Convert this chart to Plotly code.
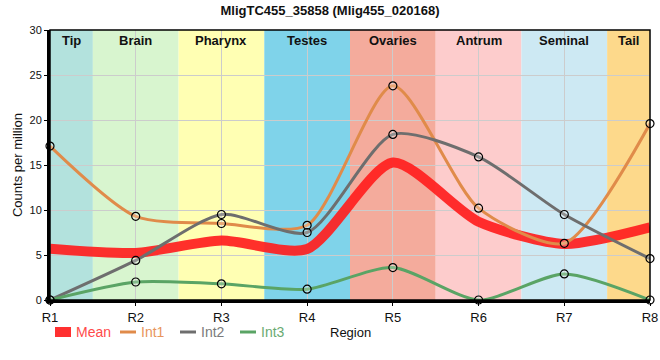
import plotly.graph_objects as go

regions = ["R1", "R2", "R3", "R4", "R5", "R6", "R7", "R8"]
int1 = [17.1, 9.3, 8.5, 8.3, 23.8, 10.2, 6.3, 19.6]
int2 = [0.0, 4.4, 9.5, 7.5, 18.4, 15.9, 9.5, 4.6]
int3 = [0.0, 2.0, 1.8, 1.2, 3.6, 0.0, 2.9, 0.0]
mean = [round((a + b + c) / 3, 2) for a, b, c in zip(int1, int2, int3)]

tissues = ["Tip", "Brain", "Pharynx", "Testes", "Ovaries", "Antrum", "Seminal", "Tail"]
tissue_colors = ["#b3e2dd", "#d8f5cf", "#ffffb3", "#7fd3ea", "#f4ab9c", "#fdcccc", "#cde9f3", "#fdd98b"]

series_names = ["Mean", "Int1", "Int2", "Int3"]
series_colors = ["rgba(255,30,30,0.92)", "#e08b4a", "#6e6e6e", "#5aa465"]
legend_text_colors = ["#ff4a4a", "#e8955c", "#7a7a7a", "#6aaa72"]

x = list(range(len(regions)))
SMOOTH = 0.7

fig = go.Figure()
fig.add_trace(go.Scatter(
    x=x, y=mean, mode="lines", showlegend=False,
    line=dict(color=series_colors[0], width=10, shape="spline", smoothing=SMOOTH),
))
for vals, col in zip([int1, int2, int3], series_colors[1:]):
    fig.add_trace(go.Scatter(
        x=x, y=vals, mode="lines", showlegend=False,
        line=dict(color=col, width=3, shape="spline", smoothing=SMOOTH),
    ))
for vals in [int1, int2, int3]:
    fig.add_trace(go.Scatter(
        x=x, y=vals, mode="markers", showlegend=False,
        marker=dict(symbol="circle", size=8, color="rgba(255,255,255,0.25)",
                    line=dict(color="black", width=1.2)),
    ))

shapes = []
for i, col in enumerate(tissue_colors):
    x0 = max(i - 0.5, 0)
    x1 = min(i + 0.5, len(regions) - 1)
    shapes.append(dict(type="rect", xref="x", yref="y", x0=x0, x1=x1, y0=0, y1=30,
                       fillcolor=col, line=dict(width=0), layer="below"))
shapes.append(dict(type="rect", xref="paper", yref="paper", x0=0, x1=1, y0=0, y1=1,
                   line=dict(color="black", width=1.5), layer="above"))

annotations = []
for i, t in enumerate(tissues):
    x0 = max(i - 0.5, 0)
    x1 = min(i + 0.5, len(regions) - 1)
    annotations.append(dict(x=(x0 + x1) / 2, y=1, xref="x", yref="paper", yanchor="top",
                            yshift=-1, text=f"<b>{t}</b>", showarrow=False,
                            font=dict(size=13, color="#111")))

# manual legend (plot area: 600 px wide starting at x=50; 270 px high)
PW, PH = 600.0, 270.0
leg_y = -32.0 / PH
leg_starts = [55, 120, 180, 240]
for i, (nm, col, tcol) in enumerate(zip(series_names, series_colors, legend_text_colors)):
    sx = leg_starts[i]
    w = 16
    lw = 10 if i == 0 else 3
    shapes.append(dict(type="line", xref="paper", yref="paper",
                       x0=(sx - 50) / PW, x1=(sx + w - 50) / PW, y0=leg_y, y1=leg_y,
                       line=dict(color=col, width=lw), layer="above"))
    annotations.append(dict(x=(sx + w + 3 - 50) / PW, y=leg_y, xref="paper", yref="paper",
                            xanchor="left", yanchor="middle", text=nm, showarrow=False,
                            font=dict(size=14, color=tcol)))
annotations.append(dict(x=0.5, y=leg_y, xref="paper", yref="paper", xanchor="center",
                        yanchor="middle", text="Region", showarrow=False,
                        font=dict(size=13, color="#111")))

fig.update_layout(
    width=660, height=360,
    margin=dict(l=50, r=10, t=30, b=60, autoexpand=False),
    paper_bgcolor="white", plot_bgcolor="white",
    font=dict(family="Liberation Sans, Arial, sans-serif", size=12, color="#111"),
    title=dict(text="<b>MligTC455_35858 (Mlig455_020168)</b>", x=0.5, xanchor="center",
               y=0.985, yanchor="top", font=dict(size=13, color="#111")),
    showlegend=False,
    shapes=shapes, annotations=annotations,
)
fig.update_xaxes(
    range=[0, len(regions) - 1], tickvals=x, ticktext=regions, automargin=False,
    showgrid=True, gridcolor="#cccccc", gridwidth=1, zeroline=False,
    showline=True, linecolor="black", linewidth=3,
    ticks="outside", ticklen=3, tickcolor="black",
    tickfont=dict(size=13, color="#111"),
)
fig.update_yaxes(
    range=[0, 30], tickvals=[0, 5, 10, 15, 20, 25, 30], automargin=False,
    showgrid=True, gridcolor="#cccccc", gridwidth=1, zeroline=False,
    showline=True, linecolor="black", linewidth=3,
    ticks="outside", ticklen=3, tickcolor="black",
    tickfont=dict(size=11, color="#111"),
    title=dict(text="Counts per million", standoff=4, font=dict(size=13)),
)
for tr in fig.data:
    tr.cliponaxis = False

fig.write_html("out.html", config={"displayModeBar": False},
               post_script="document.body.style.margin='0';document.body.style.overflow='hidden';")
